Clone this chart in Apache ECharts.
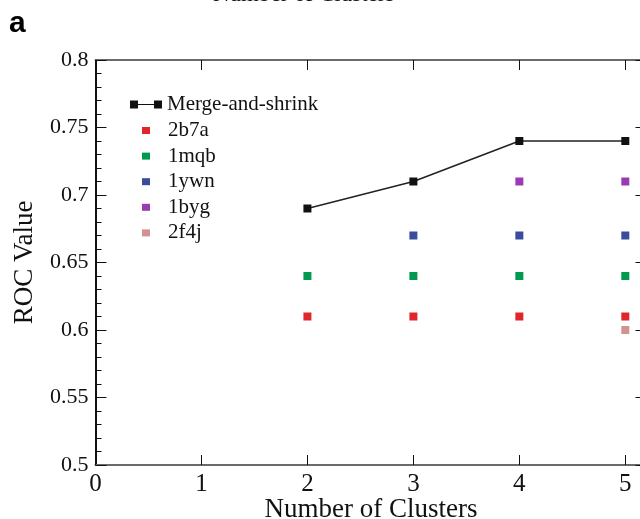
<!DOCTYPE html>
<html>
<head>
<meta charset="utf-8">
<script src="https://cdn.jsdelivr.net/npm/echarts@6/dist/echarts.min.js"></script>
<style>
  html, body { margin: 0; padding: 0; background: #ffffff; }
  #chart { width: 640px; height: 519px; }
</style>
</head>
<body>
<div id="chart"></div>
<script>
// Number of clusters on the x axis
const clusters = [2, 3, 4, 5];

// ROC values per method / target
const mergeAndShrink = [0.69, 0.71, 0.74, 0.74];
const v2b7a = [0.61, 0.61, 0.61, 0.61];
const v1mqb = [0.64, 0.64, 0.64, 0.64];
const v1ywn = [null, 0.67, 0.67, 0.67];
const v1byg = [null, null, 0.71, 0.71];
const v2f4j = [null, null, null, 0.60];

const scatterNames = ['2b7a', '1mqb', '1ywn', '1byg', '2f4j'];
const scatterValues = [v2b7a, v1mqb, v1ywn, v1byg, v2f4j];
const scatterColors = ['#e0262a', '#00994f', '#3a4d9c', '#9a3bb4', '#d29390'];

const serif = '"Liberation Serif", "Times New Roman", serif';

function pairs(xs, ys) {
  const out = [];
  xs.forEach((x, i) => { if (ys[i] !== null) out.push([x, ys[i]]); });
  return out;
}

const chart = echarts.init(document.getElementById('chart'), null, { renderer: 'canvas' });

const series = [{
  name: 'Merge-and-shrink',
  type: 'line',
  data: pairs(clusters, mergeAndShrink),
  symbol: 'rect',
  symbolSize: 8,
  itemStyle: { color: '#111111', opacity: 1 },
  lineStyle: { color: '#222222', width: 1.5 },
  animation: false,
  z: 3
}];
scatterNames.forEach((name, k) => {
  series.push({
    name: name,
    type: 'scatter',
    data: pairs(clusters, scatterValues[k]),
    symbol: 'rect',
    symbolSize: 8,
    itemStyle: { color: scatterColors[k], opacity: 1 },
    animation: false,
    z: 2
  });
});

const xCommon = {
  type: 'value', min: 0, max: 5.2, interval: 1,
  splitLine: { show: false }
};
const yCommon = {
  type: 'value', min: 0.5, max: 0.8, interval: 0.05,
  splitLine: { show: false }
};

chart.setOption({
  backgroundColor: '#ffffff',
  animation: false,
  title: [{
    text: 'Number of Clusters',
    left: 213, top: -17, padding: 0,
    textStyle: { fontFamily: serif, fontSize: 23, fontWeight: 'normal', color: '#111' }
  }, {
    text: 'a',
    left: 9, top: 9, padding: 0,
    textStyle: { fontFamily: '"Liberation Sans", Arial, sans-serif', fontSize: 30, fontWeight: 'bold', color: '#000' }
  }],
  grid: { left: 95.5, top: 60, width: 551, height: 405, containLabel: false, outerBoundsMode: 'none' },
  legend: [{
    data: [{ name: 'Merge-and-shrink', icon: 'path://M0,0h8v8h-8zM8,3.4h16v1.2h-16zM24,0h8v8h-8z' }],
    left: 130, top: 94, padding: 0,
    itemWidth: 32, itemHeight: 8,
    textStyle: { fontFamily: serif, fontSize: 21, color: '#111', lineHeight: 21 },
    selectedMode: false
  }, {
    data: scatterNames.map(n => ({ name: n, icon: 'rect' })),
    orient: 'vertical',
    left: 142, top: 120, padding: 0,
    itemWidth: 8, itemHeight: 7, itemGap: 4.6,
    itemStyle: { opacity: 1 },
    textStyle: { fontFamily: serif, fontSize: 21, color: '#111', lineHeight: 21, padding: [0, 0, 0, 13] },
    selectedMode: false
  }],
  xAxis: [Object.assign({}, xCommon, {
    position: 'bottom',
    name: 'Number of Clusters',
    nameLocation: 'middle',
    nameGap: 31,
    nameMoveOverlap: false,
    nameTextStyle: { fontFamily: serif, fontSize: 27, color: '#111' },
    axisLine: { show: true, onZero: false, lineStyle: { color: '#6a6a6a', width: 2 } },
    axisTick: { show: true, inside: true, length: 10, lineStyle: { color: '#111', width: 1 } },
    axisLabel: {
      show: true, margin: 7,
      fontFamily: serif, fontSize: 25, color: '#111',
      formatter: v => (Math.abs(v - Math.round(v)) < 1e-9 ? String(Math.round(v)) : '')
    }
  }), Object.assign({}, xCommon, {
    position: 'top',
    axisLine: { show: true, onZero: false, lineStyle: { color: '#6a6a6a', width: 2 } },
    axisTick: { show: true, inside: true, length: 10, lineStyle: { color: '#111', width: 1 } },
    axisLabel: { show: false }
  })],
  yAxis: [Object.assign({}, yCommon, {
    position: 'left',
    name: 'ROC Value',
    nameLocation: 'middle',
    nameGap: 57,
    nameMoveOverlap: false,
    nameTextStyle: { fontFamily: serif, fontSize: 27, color: '#111' },
    axisLine: { show: true, onZero: false, lineStyle: { color: '#111', width: 2 } },
    axisTick: { show: true, inside: true, length: 11, lineStyle: { color: '#111', width: 1 } },
    minorTick: { show: true, splitNumber: 5, length: 6, lineStyle: { color: '#111', width: 1 } },
    axisLabel: { show: true, margin: 7, fontFamily: serif, fontSize: 22, color: '#111' }
  }), Object.assign({}, yCommon, {
    position: 'right',
    axisLine: { show: true, onZero: false, lineStyle: { color: '#111', width: 2 } },
    axisTick: { show: true, inside: true, length: 11, lineStyle: { color: '#111', width: 1 } },
    minorTick: { show: true, splitNumber: 5, length: 6, lineStyle: { color: '#111', width: 1 } },
    axisLabel: { show: false }
  })],
  series: series
});
</script>
</body>
</html>
